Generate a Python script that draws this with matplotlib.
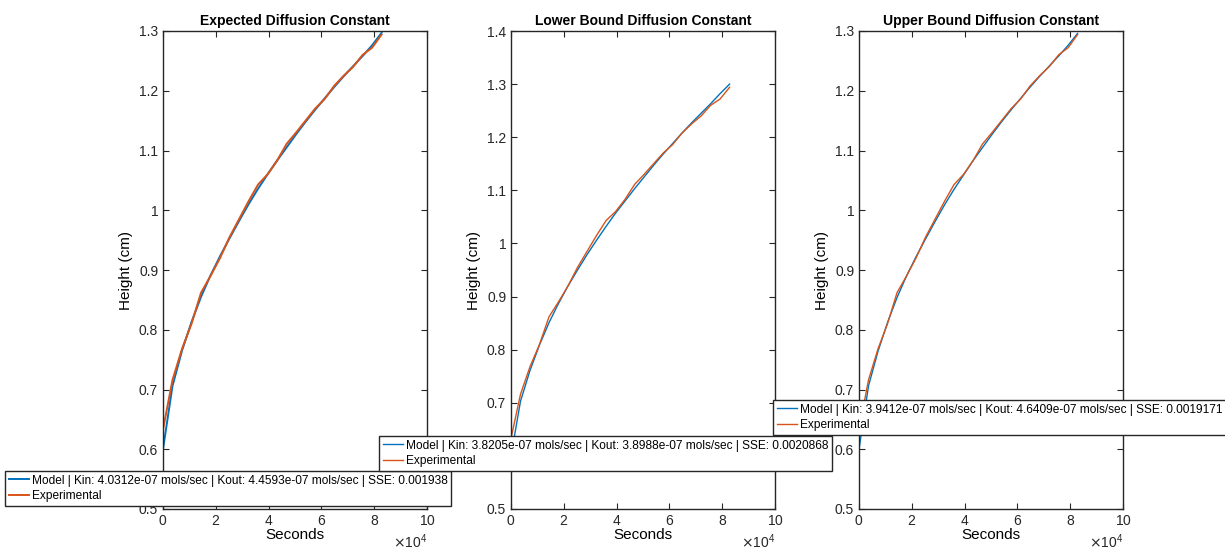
import matplotlib.pyplot as plt
import numpy as np

plt.rcParams['font.family'] = ['Liberation Sans', 'DejaVu Sans']
plt.rcParams['axes.edgecolor'] = '#262626'
plt.rcParams['xtick.color'] = '#262626'
plt.rcParams['ytick.color'] = '#262626'

# hourly samples (seconds)
seconds = np.arange(24) * 3600

experimental = [0.633, 0.716, 0.768, 0.810, 0.862, 0.890, 0.920, 0.955, 0.985, 1.015,
                1.043, 1.060, 1.083, 1.111, 1.130, 1.150, 1.170, 1.186, 1.208, 1.225,
                1.240, 1.260, 1.272, 1.294]

model_expected = [0.600, 0.706, 0.765, 0.813, 0.855, 0.891, 0.923, 0.953, 0.982, 1.010,
                  1.036, 1.060, 1.083, 1.105, 1.127, 1.148, 1.168, 1.187, 1.206, 1.224,
                  1.241, 1.258, 1.276, 1.297]
model_lower = [0.600, 0.703, 0.761, 0.809, 0.851, 0.887, 0.920, 0.950, 0.979, 1.006,
               1.032, 1.057, 1.080, 1.103, 1.125, 1.147, 1.168, 1.188, 1.208, 1.227,
               1.245, 1.263, 1.282, 1.300]
model_upper = [0.600, 0.706, 0.764, 0.812, 0.854, 0.890, 0.922, 0.952, 0.981, 1.009,
               1.035, 1.059, 1.083, 1.105, 1.127, 1.148, 1.168, 1.187, 1.206, 1.224,
               1.241, 1.258, 1.276, 1.296]

titles = ["Expected Diffusion Constant", "Lower Bound Diffusion Constant",
          "Upper Bound Diffusion Constant"]
model_labels = [
    "Model | Kin: 4.0312e-07 mols/sec | Kout: 4.4593e-07 mols/sec | SSE: 0.001938",
    "Model | Kin: 3.8205e-07 mols/sec | Kout: 3.8988e-07 mols/sec | SSE: 0.0020868",
    "Model | Kin: 3.9412e-07 mols/sec | Kout: 4.6409e-07 mols/sec | SSE: 0.0019171",
]
models = [model_expected, model_lower, model_upper]
ylims = [(0.5, 1.3), (0.5, 1.4), (0.5, 1.3)]
lefts = [163, 511, 859]
legend_corners = [(5, 471), (379, 436), (773, 400)]
widths = [1.4, 1.0, 1.0]

W, H = 1225, 550
fig = plt.figure(figsize=(W / 100, H / 100), dpi=100)

for i in range(3):
    ax = fig.add_axes([lefts[i] / W, 1 - 509 / H, 264 / W, 478 / H])
    l1, = ax.plot(seconds, models[i], color='#0072BD', lw=widths[i])
    l2, = ax.plot(seconds, experimental, color='#D95319', lw=widths[i])
    ax.set_xlim(0, 1e5)
    ax.set_ylim(*ylims[i])
    ax.set_xticks(np.arange(0, 100001, 20000))
    ax.set_yticks(np.round(np.arange(ylims[i][0], ylims[i][1] + 0.001, 0.1), 1))
    ax.ticklabel_format(style='sci', axis='x', scilimits=(4, 4), useMathText=True)
    ax.xaxis.get_offset_text().set_fontsize(10)
    ax.tick_params(direction='in', top=True, right=True, labelsize=10, length=4)
    ax.set_yticklabels([f"{v:g}" for v in ax.get_yticks()])
    for s in ax.spines.values():
        s.set_linewidth(1.0)
    ax.set_title(titles[i], fontsize=10, fontweight='bold', pad=4)
    ax.set_xlabel("Seconds", fontsize=11, labelpad=0)
    ax.set_ylabel("Height (cm)", fontsize=11, labelpad=4)

    lx, ly = legend_corners[i]
    leg = fig.legend([l1, l2], [model_labels[i], "Experimental"],
                     loc='upper left', bbox_to_anchor=(lx / W, 1 - ly / H),
                     bbox_transform=fig.transFigure, fontsize=8.6, fancybox=False,
                     framealpha=1, edgecolor='#262626', handlelength=1.75,
                     handletextpad=0.2, borderpad=0.3, labelspacing=0.3,
                     borderaxespad=0)
    leg.get_frame().set_linewidth(1.0)

fig.savefig("out.png", dpi=100)
